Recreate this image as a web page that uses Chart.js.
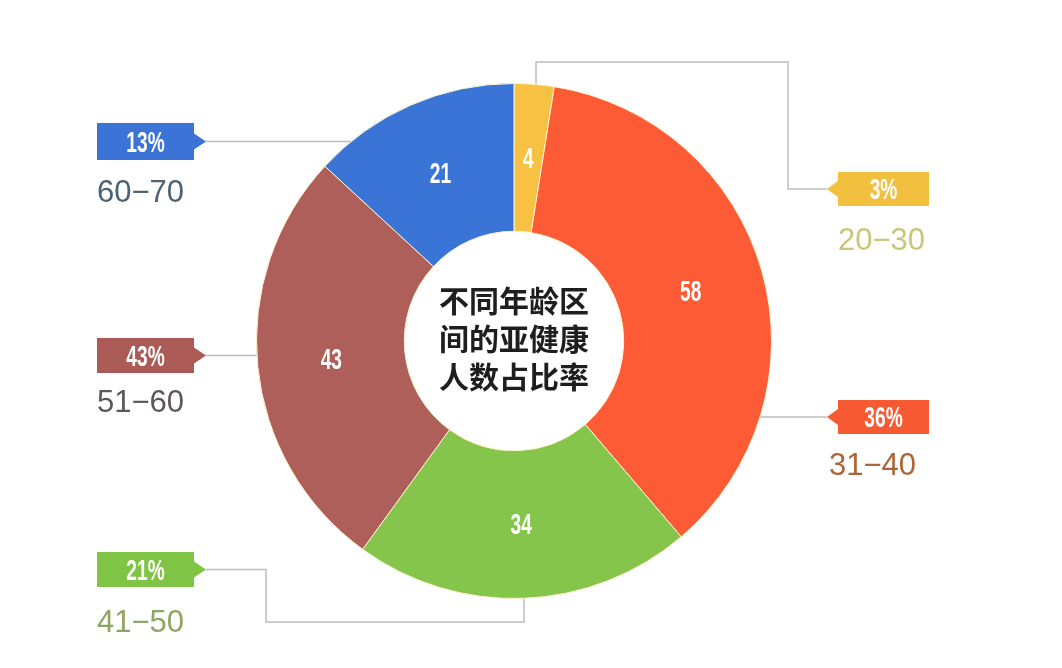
<!DOCTYPE html>
<html>
<head>
<meta charset="utf-8">
<script src="https://cdn.jsdelivr.net/npm/chart.js@4.4.0/dist/chart.umd.min.js"></script>
<style>
  html, body { margin: 0; background: #fff; }
</style>
</head>
<body>
<canvas id="chart" width="1062" height="668"></canvas>
<script>
const ageGroups = ["20−30", "31−40", "41−50", "51−60", "60−70"];
const counts = [4, 58, 34, 43, 21];
const shares = ["3%", "36%", "21%", "43%", "13%"];
const titleLines = ["不同年龄区", "间的亚健康", "人数占比率"];

const sliceColors = ["#f7c143", "#fd5b35", "#85c54b", "#ae5f5a", "#3a74d7"];
const boxColors = ["#f2c03e", "#f75a32", "#80c446", "#ac5a56", "#3b74d6"];
const ageColors = ["#c9c57a", "#ad6436", "#8fa564", "#5e5657", "#4b6375"];

// where each callout box sits, and the elbow route of its leader line
const callouts = [
    { x: 838, y: 172, w: 91, h: 34, side: "left", elbow: [[788, null], [788, 62], [536, 62]], textX: 838, textY: 250 },
    { x: 838, y: 400, w: 91, h: 34, side: "left", elbow: [], textX: 829, textY: 475 },
    { x: 97, y: 552, w: 97, h: 35, side: "right", elbow: [[266, null], [266, 622], [524, 622]], textX: 97, textY: 632 },
    { x: 97, y: 338, w: 97, h: 35, side: "right", elbow: [], textX: 97, textY: 412 },
    { x: 97, y: 123, w: 97, h: 37, side: "right", elbow: [], textX: 97, textY: 202 }
];

const numFont = "bold 29px 'Liberation Sans', Arial, sans-serif";

function tipOf(c) {
    const midY = c.y + c.h / 2;
    return c.side === "left" ? [c.x - 11, midY] : [c.x + c.w + 12, midY];
}

// squeezed bold numbers, like the poster-style font in the picture
function narrowText(ctx, text, x, y) {
    ctx.save();
    ctx.translate(x, y);
    ctx.scale(0.66, 1);
    ctx.font = numFont;
    ctx.textAlign = "center";
    ctx.textBaseline = "middle";
    ctx.fillText(text, 0, 0);
    ctx.restore();
}

const leaderLines = {
    id: "leaderLines",
    beforeDatasetsDraw(chart) {
        const ctx = chart.ctx;
        const arc = chart.getDatasetMeta(0).data[0];
        const cx = arc.x, cy = arc.y, R = arc.outerRadius - 4;
        ctx.save();
        ctx.strokeStyle = "#bdbdbd";
        ctx.lineWidth = 1.5;
        callouts.forEach(c => {
            const tip = tipOf(c);
            ctx.beginPath();
            ctx.moveTo(tip[0], tip[1]);
            let last = tip;
            c.elbow.forEach(p => {
                last = [p[0], p[1] === null ? tip[1] : p[1]];
                ctx.lineTo(last[0], last[1]);
            });
            if (c.elbow.length === 0) {
                const dx = Math.sqrt(R * R - (tip[1] - cy) ** 2);
                ctx.lineTo(tip[0] > cx ? cx + dx : cx - dx, tip[1]);
            } else {
                const dy = Math.sqrt(R * R - (last[0] - cx) ** 2);
                ctx.lineTo(last[0], last[1] < cy ? cy - dy : cy + dy);
            }
            ctx.stroke();
        });
        ctx.restore();
    }
};

const decorations = {
    id: "decorations",
    afterDraw(chart) {
        const ctx = chart.ctx;
        const meta = chart.getDatasetMeta(0);
        const arc0 = meta.data[0];
        ctx.save();

        // slice values
        ctx.fillStyle = "#fff";
        meta.data.forEach((a, i) => {
            const p = a.tooltipPosition();
            narrowText(ctx, String(counts[i]), p.x, p.y + 2);
        });

        // centre title
        ctx.fillStyle = "#1e1e1e";
        ctx.textAlign = "center";
        ctx.textBaseline = "middle";
        ctx.font = "bold 30px 'Noto Sans CJK SC', sans-serif";
        titleLines.forEach((t, i) => {
            ctx.fillText(t, arc0.x, arc0.y + (i - 1) * 38 - 2);
        });

        // callout boxes
        callouts.forEach((c, i) => {
            const tip = tipOf(c);
            ctx.fillStyle = boxColors[i];
            ctx.fillRect(c.x, c.y, c.w, c.h);
            const edge = c.side === "left" ? c.x : c.x + c.w;
            ctx.beginPath();
            ctx.moveTo(edge, tip[1] - 8);
            ctx.lineTo(tip[0], tip[1]);
            ctx.lineTo(edge, tip[1] + 8);
            ctx.closePath();
            ctx.fill();

            ctx.fillStyle = "#fff";
            narrowText(ctx, shares[i], c.x + c.w / 2, c.y + c.h / 2 + 2);

            ctx.fillStyle = ageColors[i];
            ctx.textAlign = "left";
            ctx.textBaseline = "alphabetic";
            ctx.font = "31px 'Liberation Sans', Arial, sans-serif";
            ctx.fillText(ageGroups[i], c.textX, c.textY);
        });
        ctx.restore();
    }
};

new Chart("chart", {
    type: "doughnut",
    data: {
        labels: ageGroups,
        datasets: [{
            data: counts,
            backgroundColor: sliceColors,
            borderColor: "#fff4d0",
            borderWidth: 1
        }]
    },
    options: {
        responsive: false,
        animation: false,
        cutout: "42.6%",
        layout: { padding: { top: 83, bottom: 69, left: 256, right: 290 } },
        plugins: {
            legend: { display: false },
            tooltip: { enabled: false }
        }
    },
    plugins: [leaderLines, decorations]
});
</script>
</body>
</html>
